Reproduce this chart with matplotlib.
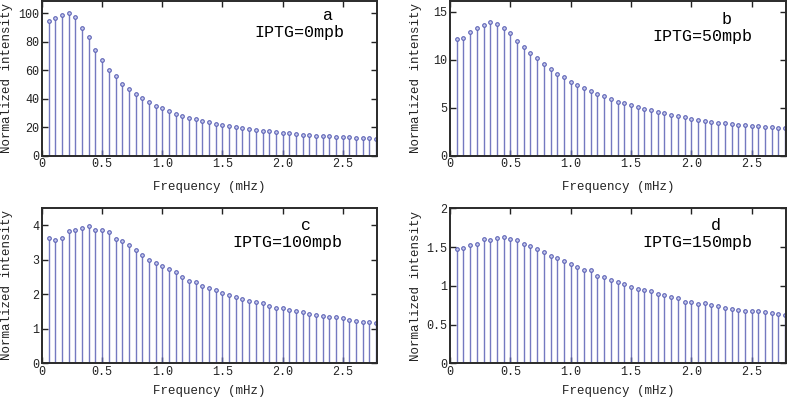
import numpy as np
import matplotlib
matplotlib.use("Agg")
import matplotlib.pyplot as plt
from matplotlib.ticker import FuncFormatter

plt.rcParams['font.family'] = ['Liberation Mono', 'DejaVu Sans']

# frequency bins (mHz): 50 bins, step 1/18 mHz
freq = np.arange(1, 51) / 18.0

vals_a = [94.4, 96.3, 98.4, 100.0, 97.4, 89.9, 83.1, 74.2, 67.0, 60.4,
          55.7, 50.6, 47.0, 43.6, 40.3, 37.9, 35.1, 33.3, 31.1, 29.5,
          28.1, 26.7, 25.5, 24.4, 23.4, 22.2, 21.8, 20.6, 19.9, 19.4,
          19.0, 18.0, 17.6, 17.1, 16.6, 16.2, 15.7, 15.2, 14.8, 14.3,
          14.0, 13.6, 13.6, 13.1, 13.1, 12.9, 12.7, 12.4, 12.2, 11.7]
vals_b = [12.18, 12.3, 12.83, 13.31, 13.59, 13.93, 13.73, 13.31, 12.73, 11.9,
          11.28, 10.66, 10.15, 9.53, 9.01, 8.5, 8.22, 7.67, 7.33, 7.02,
          6.71, 6.40, 6.19, 5.88, 5.64, 5.44, 5.23, 5.02, 4.88, 4.71,
          4.54, 4.40, 4.27, 4.13, 4.02, 3.85, 3.72, 3.65, 3.51, 3.44,
          3.37, 3.30, 3.23, 3.16, 3.13, 3.10, 3.03, 2.99, 2.92, 2.89]
vals_c = [3.64, 3.59, 3.64, 3.85, 3.87, 3.92, 3.97, 3.88, 3.86, 3.82,
          3.62, 3.54, 3.43, 3.28, 3.13, 3.01, 2.92, 2.83, 2.73, 2.64,
          2.49, 2.40, 2.35, 2.23, 2.18, 2.13, 2.04, 1.98, 1.92, 1.87,
          1.80, 1.77, 1.74, 1.67, 1.60, 1.60, 1.54, 1.51, 1.49, 1.42,
          1.40, 1.37, 1.33, 1.33, 1.30, 1.25, 1.24, 1.21, 1.19, 1.17]
vals_d = [1.475, 1.49, 1.53, 1.54, 1.60, 1.59, 1.62, 1.63, 1.61, 1.59,
          1.54, 1.52, 1.47, 1.43, 1.39, 1.36, 1.32, 1.28, 1.24, 1.21,
          1.20, 1.13, 1.11, 1.07, 1.05, 1.02, 0.99, 0.96, 0.94, 0.93,
          0.90, 0.88, 0.86, 0.84, 0.79, 0.79, 0.77, 0.78, 0.75, 0.74,
          0.71, 0.70, 0.69, 0.68, 0.67, 0.67, 0.66, 0.65, 0.63, 0.62]

panel_letters = ['a', 'b', 'c', 'd']
panel_titles = ['IPTG=0mpb', 'IPTG=50mpb', 'IPTG=100mpb', 'IPTG=150mpb']
ylims = [(0, 108.5), (0, 16.1), (0, 4.52), (0, 2.0)]
yticks = [[0, 20, 40, 60, 80, 100], [0, 5, 10, 15], [0, 1, 2, 3, 4], [0, 0.5, 1, 1.5, 2]]
xticks = [0, 0.5, 1.0, 1.5, 2.0, 2.5]
xticklabels = ['0', '0.5', '1.0', '1.5', '2.0', '2.5']
series = [vals_a, vals_b, vals_c, vals_d]

W, H = 787, 399
# axes boxes in pixels: left, top, right, bottom
boxes = [(42, 1, 377, 155.7), (450, 1, 786, 155.7),
         (42, 207.5, 377, 363.3), (450, 208.3, 786, 363.3)]
letter_pos = [(328, 15), (727, 20), (306, 225), (716, 225)]
title_pos = [(299, 32), (702, 36), (287, 242), (697, 243)]
xlabel_y = [187, 187, 391, 391]
ylabel_x = [7, 416, 7, 416]

fig = plt.figure(figsize=(W / 100, H / 100), dpi=100)
stem_color = '#5c62b5'
for i in range(4):
    l, t, r, b = boxes[i]
    ax = fig.add_axes([l / W, 1 - b / H, (r - l) / W, (b - t) / H])
    ax.vlines(freq, 0, series[i], color=stem_color, lw=1.0, alpha=0.85)
    ax.plot(freq, series[i], 'o', ms=2.6, mfc='#c9ccee', mec=stem_color, mew=0.8)
    ax.set_xlim(0, 2.785)
    ax.set_ylim(*ylims[i])
    ax.set_yticks(yticks[i])
    ax.yaxis.set_major_formatter(FuncFormatter(lambda v, p: '%g' % v))
    ax.set_xticks(xticks)
    ax.set_xticklabels(xticklabels)
    ax.tick_params(direction='in', top=True, right=True, length=4, width=1,
                   labelsize=8.5, colors='#222222', pad=2)
    for s in ax.spines.values():
        s.set_linewidth(1.4)
        s.set_color('#2a2a2a')
    fig.text((l + r) / 2 / W, 1 - xlabel_y[i] / H, 'Frequency (mHz)', fontsize=9,
             ha='center', va='center', color='#222222')
    fig.text(ylabel_x[i] / W, 1 - (t + b) / 2 / H, 'Normalized intensity', fontsize=9,
             ha='center', va='center', rotation=90, color='#222222')
    lx, ly = letter_pos[i]
    fig.text(lx / W, 1 - ly / H, panel_letters[i], fontsize=12, ha='center', va='center')
    tx, ty = title_pos[i]
    fig.text(tx / W, 1 - ty / H, panel_titles[i], fontsize=12, ha='center', va='center')

fig.savefig('out.png', dpi=100)
